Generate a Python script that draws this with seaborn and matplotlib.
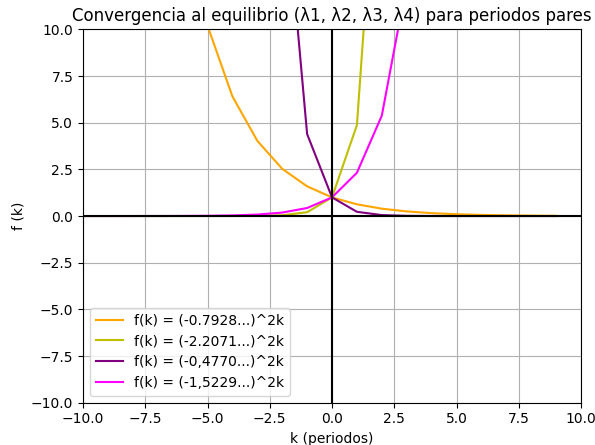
import numpy as np
import pandas as pd
import matplotlib
matplotlib.use('Agg')
import matplotlib.pyplot as plt
import seaborn as sns

# Periodos k y valores f(k) = (lambda)^(2k)
k = list(range(-10, 10))

f_l1 = [103.9, 65.3, 41.07, 25.81, 16.22, 10.20, 6.41, 4.03, 2.531, 1.591,
        1.0, 0.6285, 0.395, 0.2483, 0.156, 0.0981, 0.0617, 0.0388, 0.0244, 0.0153]
f_l2 = [1.4e-7, 6.8e-7, 3.3e-6, 1.6e-5, 7.9e-5, 3.8e-4, 1.78e-3, 8.65e-3, 0.0421, 0.2053,
        1.0, 4.871, 23.73, 115.6, 563.1, 2743.0, 13362.0, 65090.0, 317070.0, 1544560.0]
f_l3 = [2.69e6, 6.12e5, 1.39e5, 3.17e4, 7210.0, 1640.0, 373.2, 84.9, 19.32, 4.395,
        1.0, 0.2275, 0.0518, 0.01178, 2.68e-3, 6.1e-4, 1.39e-4, 3.2e-5, 7.2e-6, 1.6e-6]
f_l4 = [2.24e-4, 5.2e-4, 1.21e-3, 2.8e-3, 6.5e-3, 0.0150, 0.0346, 0.0802, 0.1859, 0.4312,
        1.0, 2.319, 5.379, 12.47, 28.93, 67.09, 155.6, 360.9, 837.0, 1941.0]

labels = ['f(k) = (-0.7928...)^2k', 'f(k) = (-2.2071...)^2k',
          'f(k) = (-0,4770...)^2k', 'f(k) = (-1,5229...)^2k']
colors = ['orange', 'y', 'purple', 'magenta']

df = pd.DataFrame({'k': k * 4,
                   'f': f_l1 + f_l2 + f_l3 + f_l4,
                   'serie': [lab for lab in labels for _ in k]})

plt.style.use('default')
fig, ax = plt.subplots(figsize=(5.95, 4.45), dpi=100)
fig.subplots_adjust(left=0.1395, right=0.9765, top=0.934, bottom=0.095)

sns.lineplot(data=df, x='k', y='f', hue='serie', palette=colors,
             hue_order=labels, ax=ax, linewidth=1.5)

ax.axhline(0, color='black', linewidth=1.5)
ax.axvline(0, color='black', linewidth=1.5)
ax.set_xlim(-10, 10)
ax.set_ylim(-10, 10)
ax.grid(True)
ax.set_title('Convergencia al equilibrio (λ1, λ2, λ3, λ4) para periodos pares')
ax.set_xlabel('k (periodos)')
ax.set_ylabel('f (k)')
ax.legend(loc='lower left')

plt.savefig('out.png', dpi=100)
